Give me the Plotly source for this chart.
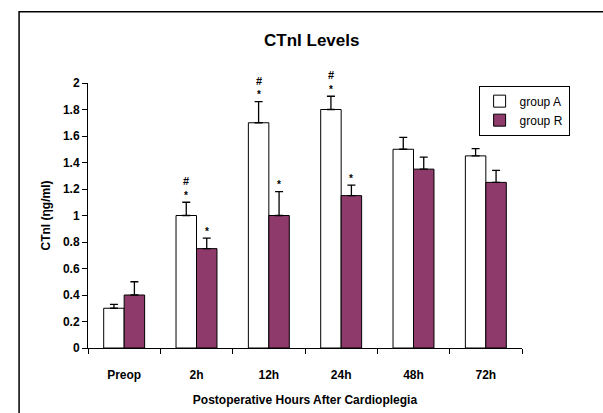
import plotly.graph_objects as go

categories = ["Preop", "2h", "12h", "24h", "48h", "72h"]
group_a = [0.30, 1.00, 1.70, 1.80, 1.50, 1.45]
group_a_err = [0.03, 0.10, 0.16, 0.10, 0.09, 0.055]
group_r = [0.40, 0.75, 1.00, 1.15, 1.35, 1.25]
group_r_err = [0.10, 0.08, 0.18, 0.08, 0.09, 0.09]
star_a = ["", "*#", "*#", "*#", "", ""]
star_r = ["", "*", "*", "*", "", ""]
y_tick_vals = [0, 0.2, 0.4, 0.6, 0.8, 1.0, 1.2, 1.4, 1.6, 1.8, 2.0]
y_tick_text = ["0", "0.2", "0.4", "0.6", "0.8", "1", "1.2", "1.4", "1.6", "1.8", "2"]

FONT = "Arial, Liberation Sans, sans-serif"
purple = "#8E3A6A"
bargap = 0.434

fig = go.Figure()
fig.add_trace(go.Bar(
    name="group A", x=categories, y=group_a,
    marker=dict(color="white", line=dict(color="black", width=1)),
    error_y=dict(type="data", symmetric=False, array=group_a_err,
                 arrayminus=[0] * len(group_a), color="black", thickness=1.3, width=4),
))
fig.add_trace(go.Bar(
    name="group R", x=categories, y=group_r,
    marker=dict(color=purple, line=dict(color="black", width=1)),
    error_y=dict(type="data", symmetric=False, array=group_r_err,
                 arrayminus=[0] * len(group_r), color="black", thickness=1.3, width=4),
))

half = (1 - bargap) / 4
annotations = []
for i, cat in enumerate(categories):
    for vals, errs, marks, off in ((group_a, group_a_err, star_a, -half),
                                   (group_r, group_r_err, star_r, half)):
        top = vals[i] + errs[i]
        if "*" in marks[i]:
            annotations.append(dict(x=i + off, y=top, xref="x", yref="y", text="*",
                                    showarrow=False, yshift=7, yanchor="middle",
                                    font=dict(family=FONT, size=10, color="black", weight="bold")))
        if "#" in marks[i]:
            annotations.append(dict(x=i + off, y=top, xref="x", yref="y", text="#",
                                    showarrow=False, yshift=21, yanchor="middle",
                                    font=dict(family=FONT, size=11, color="black", weight="bold")))

fig.update_layout(
    width=603, height=413,
    margin=dict(l=88, r=81, t=83, b=65),
    paper_bgcolor="white", plot_bgcolor="white",
    barmode="group", bargap=bargap, bargroupgap=0,
    font=dict(family=FONT, color="black"),
    title=dict(text="CTnI Levels", x=0.517, xanchor="center", y=0.903, yanchor="middle",
               font=dict(family=FONT, size=17, color="black", weight="bold")),
    legend=dict(x=0.9, y=0.99, xanchor="left", yanchor="top",
                bordercolor="black", borderwidth=1, bgcolor="white",
                font=dict(family=FONT, size=12, color="black"),
                itemwidth=30, tracegroupgap=2),
    xaxis=dict(showline=True, linecolor="black", linewidth=1, automargin=False,
               ticks="outside", ticklen=5, tickcolor="black", tickson="boundaries",
               tickfont=dict(family=FONT, size=12, color="black", weight="bold"),
               ticklabelstandoff=16,
               title=dict(text="Postoperative Hours After Cardioplegia",
                          font=dict(family=FONT, size=12, color="black", weight="bold"),
                          standoff=14),
               showgrid=False),
    yaxis=dict(range=[0, 2], showline=True, linecolor="black", linewidth=1,
               automargin=False, tickmode="array", tickvals=y_tick_vals,
               ticktext=["<b>" + t + "</b>" for t in y_tick_text],
               ticks="outside", ticklen=5, tickcolor="black",
               tickfont=dict(family=FONT, size=12, color="black"),
               title=dict(text="CTnI (ηg/ml)",
                          font=dict(family=FONT, size=12, color="black", weight="bold"),
                          standoff=9),
               showgrid=False, zeroline=False),
    annotations=annotations,
    shapes=[dict(type="rect", xref="paper", yref="paper",
                 x0=(19 - 88) / 434.5, x1=(640 - 88) / 434.5,
                 y0=(348.3 - 440) / 265, y1=(348.3 - 12) / 265,
                 line=dict(color="black", width=1.5), fillcolor="rgba(0,0,0,0)", layer="below")],
)

fig.write_html("out.html")
